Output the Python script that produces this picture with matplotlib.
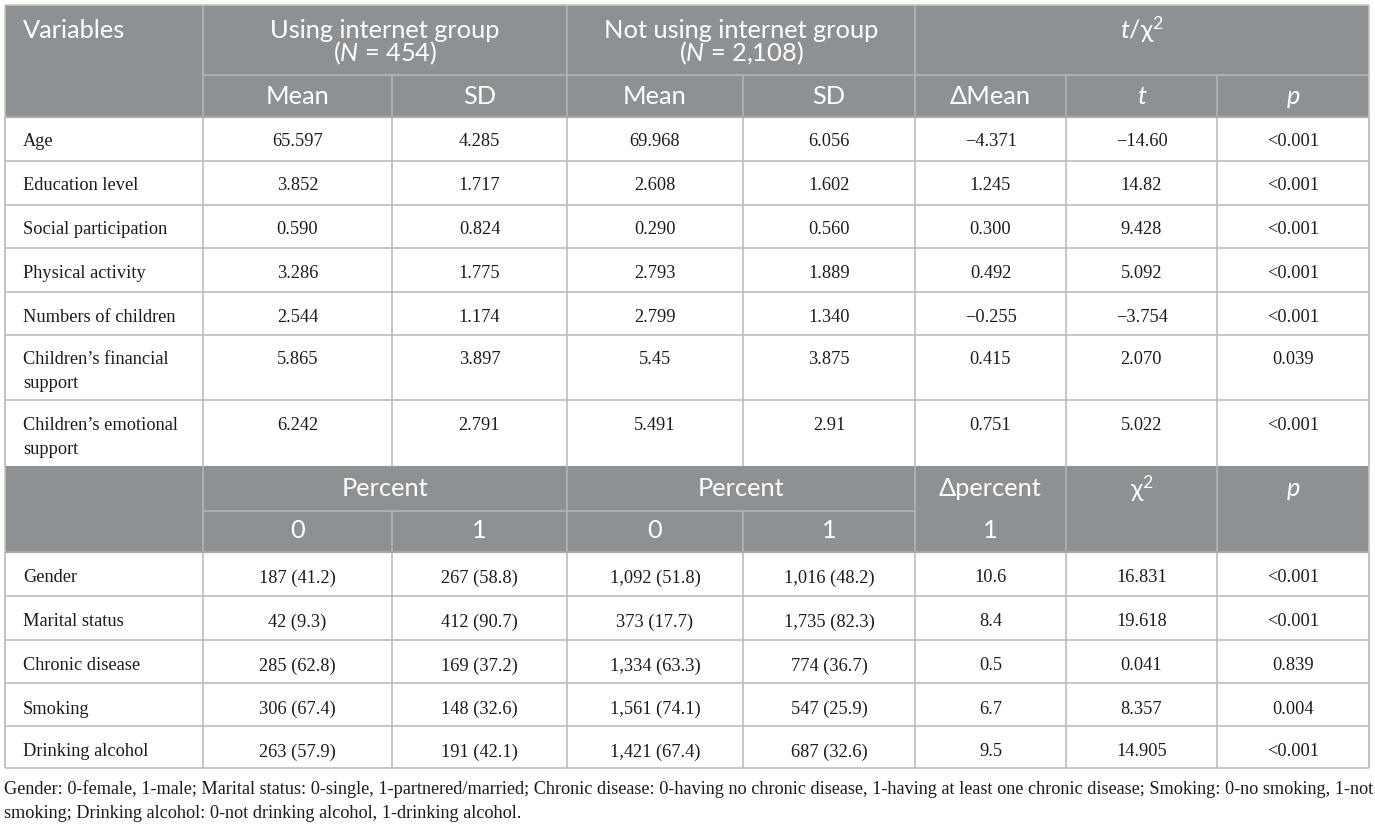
import matplotlib.pyplot as plt
from matplotlib.patches import Rectangle

plt.rcParams['mathtext.fontset'] = 'custom'
plt.rcParams['mathtext.rm'] = 'Lato'
plt.rcParams['mathtext.it'] = 'Lato:italic'

# continuous variables
cont_vars = ['Age', 'Education level', 'Social participation', 'Physical activity',
             'Numbers of children', 'Children’s financial\nsupport',
             'Children’s emotional\nsupport']
use_mean = ['65.597', '3.852', '0.590', '3.286', '2.544', '5.865', '6.242']
use_sd = ['4.285', '1.717', '0.824', '1.775', '1.174', '3.897', '2.791']
not_mean = ['69.968', '2.608', '0.290', '2.793', '2.799', '5.45', '5.491']
not_sd = ['6.056', '1.602', '0.560', '1.889', '1.340', '3.875', '2.91']
delta_mean = ['−4.371', '1.245', '0.300', '0.492', '−0.255', '0.415', '0.751']
t_vals = ['−14.60', '14.82', '9.428', '5.092', '−3.754', '2.070', '5.022']
p_cont = ['<0.001', '<0.001', '<0.001', '<0.001', '<0.001', '0.039', '<0.001']

# categorical variables
cat_vars = ['Gender', 'Marital status', 'Chronic disease', 'Smoking', 'Drinking alcohol']
use_0 = ['187 (41.2)', '42 (9.3)', '285 (62.8)', '306 (67.4)', '263 (57.9)']
use_1 = ['267 (58.8)', '412 (90.7)', '169 (37.2)', '148 (32.6)', '191 (42.1)']
not_0 = ['1,092 (51.8)', '373 (17.7)', '1,334 (63.3)', '1,561 (74.1)', '1,421 (67.4)']
not_1 = ['1,016 (48.2)', '1,735 (82.3)', '774 (36.7)', '547 (25.9)', '687 (32.6)']
delta_pct = ['10.6', '8.4', '0.5', '6.7', '9.5']
chi2_vals = ['16.831', '19.618', '0.041', '8.357', '14.905']
p_cat = ['<0.001', '<0.001', '0.839', '0.004', '<0.001']

footnote = ['Gender: 0-female, 1-male; Marital status: 0-single, 1-partnered/married; '
            'Chronic disease: 0-having no chronic disease, 1-having at least one chronic '
            'disease; Smoking: 0-no smoking, 1-not',
            'smoking; Drinking alcohol: 0-not drinking alcohol, 1-drinking alcohol.']

# layout (pixels)
cols = [5, 203, 392, 567, 743, 915, 1066, 1217, 1369]
cont_tops = [117, 161, 205, 248, 292, 335, 400, 466]
cat_tops = [552, 596, 640, 683, 726, 768]
HEAD = '#8d9194'
HEAD_LINE = '#b2b5b7'
GRID = '#bcbcbc'
SANS = ['Lato', 'DejaVu Sans']
SERIF = ['Liberation Serif', 'DejaVu Serif']
HFS = 18.3
BFS = 13.2

fig = plt.figure(figsize=(13.75, 8.25), dpi=100)
ax = fig.add_axes([0, 0, 1, 1])
ax.set_xlim(0, 1375)
ax.set_ylim(825, 0)
ax.axis('off')


def mid(i, j=None):
    j = i + 1 if j is None else j
    return (cols[i] + cols[j]) / 2


def htext(x, y, s, **kw):
    ax.text(x, y, s, color='white', fontsize=HFS, family=SANS,
            ha=kw.pop('ha', 'center'), va='center', **kw)


def btext(x, y, s, ha='center'):
    ax.text(x, y, s, color='#1b1b1b', fontsize=BFS, family=SERIF, ha=ha, va='center')


def hline(y, x0, x1, c, lw=1.2):
    ax.plot([x0, x1], [y, y], color=c, lw=lw, solid_capstyle='butt')


def vline(x, y0, y1, c, lw=1.2):
    ax.plot([x, x], [y0, y1], color=c, lw=lw, solid_capstyle='butt')


# header blocks
ax.add_patch(Rectangle((cols[0], 5), cols[-1] - cols[0], 112, color=HEAD, lw=0))
ax.add_patch(Rectangle((cols[0], 466), cols[-1] - cols[0], 86, color=HEAD, lw=0))

# first header
htext(23, 30, 'Variables', ha='left')
htext(mid(1, 3), 30, 'Using internet group')
htext(mid(1, 3), 53, '($\\mathit{N}$ = 454)')
htext(mid(3, 5), 30, 'Not using internet group')
htext(mid(3, 5), 53, '($\\mathit{N}$ = 2,108)')
htext(mid(5, 8), 30, '$\\mathit{t}$/χ$^{2}$')
for i, s in enumerate(['Mean', 'SD', 'Mean', 'SD', 'ΔMean']):
    htext(mid(i + 1), 97, s)
htext(mid(6), 97, 't', style='italic')
htext(mid(7), 97, 'p', style='italic')
for x in [cols[1], cols[3], cols[5]]:
    vline(x, 5, 117, HEAD_LINE)
for x in [cols[2], cols[4], cols[6], cols[7]]:
    vline(x, 75, 117, HEAD_LINE)
hline(75, cols[1], cols[-1], HEAD_LINE)

# continuous rows
cont_cols = [use_mean, use_sd, not_mean, not_sd, delta_mean, t_vals, p_cont]
for r, name in enumerate(cont_vars):
    y = cont_tops[r] + 25
    for k, line in enumerate(name.split('\n')):
        btext(23, y + k * 24, line, ha='left')
    for c, vals in enumerate(cont_cols):
        btext(mid(c + 1), y, vals[r])
for y in cont_tops[1:-1]:
    hline(y, cols[0], cols[-1], GRID)
for x in cols:
    vline(x, 117, 466, GRID)

# second header
htext(mid(1, 3), 489, 'Percent')
htext(mid(3, 5), 489, 'Percent')
htext(mid(5), 489, 'Δpercent')
htext(mid(6), 489, 'χ$^{2}$')
htext(mid(7), 489, 'p', style='italic')
for i, s in enumerate(['0', '1', '0', '1', '1']):
    htext(mid(i + 1), 530, s)
for x in [cols[1], cols[3], cols[5], cols[6], cols[7]]:
    vline(x, 466, 552, HEAD_LINE)
for x in [cols[2], cols[4]]:
    vline(x, 511, 552, HEAD_LINE)
hline(511, cols[1], cols[5], HEAD_LINE)

# categorical rows
cat_cols = [use_0, use_1, not_0, not_1, delta_pct, chi2_vals, p_cat]
for r, name in enumerate(cat_vars):
    y = cat_tops[r] + 26
    btext(23, y, name, ha='left')
    for c, vals in enumerate(cat_cols):
        btext(mid(c + 1), y, vals[r])
for y in cat_tops[1:]:
    hline(y, cols[0], cols[-1], GRID)
for x in cols:
    vline(x, 552, 768, GRID)

# outer border
hline(5, cols[0], cols[-1], '#c4c4c4')
hline(117, cols[0], cols[-1], '#a8a8a8', lw=1.6)
hline(552, cols[0], cols[-1], '#a8a8a8', lw=1.6)
vline(cols[0], 5, 768, '#c4c4c4')
vline(cols[-1], 5, 768, '#c4c4c4')

# footnote
for k, line in enumerate(footnote):
    ax.text(4, 789 + k * 24, line, color='#1b1b1b', fontsize=13.15, family=SERIF,
            ha='left', va='center')

fig.savefig('out.png', dpi=100)
